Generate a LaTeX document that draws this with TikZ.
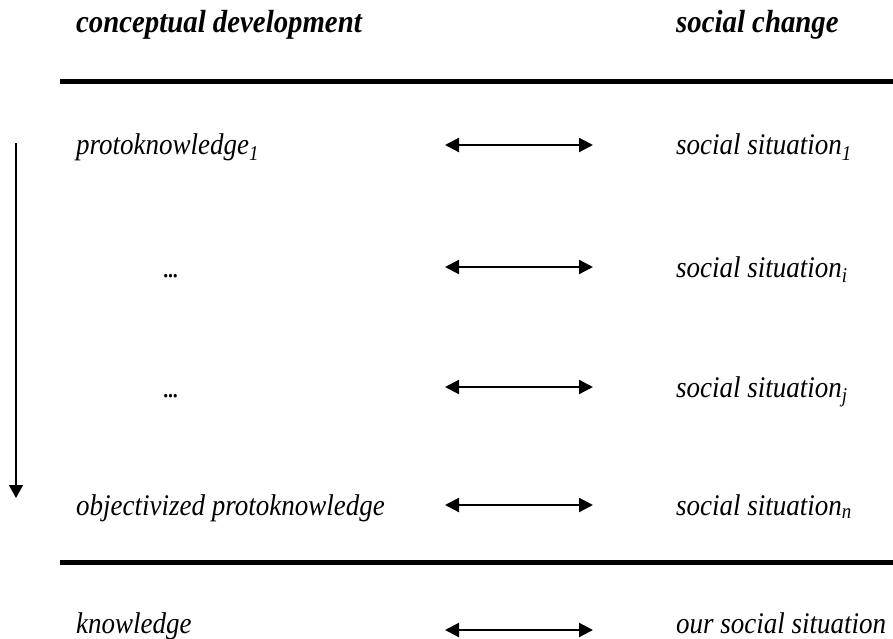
\documentclass[tikz,border=0pt]{standalone}
\usepackage{fontspec}
\setmainfont{Liberation Serif}[FakeStretch=0.9]
\usetikzlibrary{arrows.meta}
\begin{document}
\begin{tikzpicture}[x=1pt,y=-1pt,
    every node/.style={anchor=base west,inner sep=0pt,font=\fontsize{30}{36}\selectfont\itshape},
    head/.style={font=\fontsize{32}{38}\selectfont\bfseries\itshape},
    link/.style={line width=2.2pt,{Triangle[length=14pt,width=14pt]}-{Triangle[length=14pt,width=14pt]}},
    rule/.style={line width=5pt}]
    \useasboundingbox (0,0) rectangle (893,639);
    \node[head] (cd) at (76,33) {conceptual development};
    \node[head] (sc) at (676,33) {social change};
    \coordinate (r1l) at (60,82);  \coordinate (r1r) at (893,82);
    \coordinate (r2l) at (60,562); \coordinate (r2r) at (893,562);
    \draw[rule] (r1l) -- (r1r);
    \draw[rule] (r2l) -- (r2r);
    \node (pk) at (76,155) {protoknowledge\textsubscript{1}};
    \node (d1) at (163,277) {.\kern-2pt.\kern-2pt.};
    \node (d2) at (163,397) {.\kern-2pt.\kern-2pt.};
    \node (opk) at (76,515) {objectivized protoknowledge};
    \node (k) at (76,633) {knowledge};
    \node (s1) at (676,155) {social situation\textsubscript{1}};
    \node (si) at (676,277) {social situation\textsubscript{i}};
    \node (sj) at (676,397) {social situation\textsubscript{j}};
    \node (sn) at (676,515) {social situation\textsubscript{n}};
    \node (os) at (676,633) {our social situation};
    \coordinate (a1l) at (445,145); \coordinate (a1r) at (593,145);
    \coordinate (a2l) at (445,267); \coordinate (a2r) at (593,267);
    \coordinate (a3l) at (445,387); \coordinate (a3r) at (593,387);
    \coordinate (a4l) at (445,505); \coordinate (a4r) at (593,505);
    \coordinate (a5l) at (445,630); \coordinate (a5r) at (593,630);
    \draw[link] (a1l) -- (a1r);
    \draw[link] (a2l) -- (a2r);
    \draw[link] (a3l) -- (a3r);
    \draw[link] (a4l) -- (a4r);
    \draw[link] (a5l) -- (a5r);
    % time runs downwards
    \coordinate (top) at (16,143); \coordinate (bot) at (16,498);
    \draw[line width=1.6pt,-{Triangle[length=13pt,width=14pt]}] (top) -- (bot);
  \end{tikzpicture}
\end{document}
